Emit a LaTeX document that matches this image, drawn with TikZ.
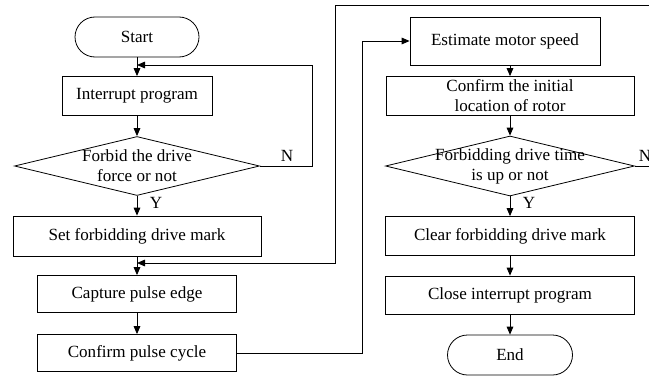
\documentclass[tikz,border=0pt]{standalone}
\usepackage{fontspec}
\setmainfont{Liberation Serif}
\usetikzlibrary{shapes.geometric,arrows.meta}

\begin{document}
\begin{tikzpicture}[x=0.75pt, y=-0.75pt,
    font=\fontsize{12.8}{15}\selectfont,
    box/.style={draw, line width=0.6pt, rectangle, inner sep=0pt, align=center},
    term/.style={draw, line width=0.6pt, rectangle, rounded corners=15pt, inner sep=0pt, minimum width=93pt, minimum height=30pt},
    decision/.style={draw, line width=0.6pt, diamond, inner sep=0pt},
    arr/.style={-{Triangle[length=6pt,width=5pt]}, line width=0.6pt},
    wire/.style={line width=0.6pt}]
    \useasboundingbox (0,0) rectangle (649,378);
    \clip (0,0) rectangle (649,378);

    % left column
    \node[term] (start) at (137,37) {Start};
    \node[box, minimum width=112.5pt, minimum height=29.25pt] (intr) at (137,96) {Interrupt program};
    \node[decision, minimum width=183.75pt, minimum height=44.25pt] (dec1) at (137,166) {};
    \node[align=center] at (dec1) {Forbid the drive\\force or not};
    \node[box, minimum width=186pt, minimum height=30pt] (setm) at (137,236) {Set forbidding drive mark};
    \node[box, minimum width=149.25pt, minimum height=27.75pt] (capt) at (137,294) {Capture pulse edge};
    \node[box, minimum width=149.25pt, minimum height=27.75pt] (cycl) at (137,353) {Confirm pulse cycle};

    \node (n1) at (287,156) {N};
    \node (y1) at (156,203) {Y};

    \coordinate (m1) at (137,65);
    \coordinate (m2) at (137,263);

    % right column
    \node[box, minimum width=142.5pt, minimum height=36pt] (est) at (505,41) {Estimate motor speed};
    \node[box, minimum width=186pt, minimum height=29.25pt] (loc) at (510,96) {Confirm the initial\\location of rotor};
    \node[decision, minimum width=186.75pt, minimum height=45pt] (dec2) at (510,166) {};
    \node[align=center] at (dec2) {Forbidding drive time\\is up or not};
    \node[box, minimum width=186.75pt, minimum height=29.25pt] (clr) at (510,236) {Clear forbidding drive mark};
    \node[box, minimum width=186.75pt, minimum height=28.5pt] (cls) at (510,295) {Close interrupt program};
    \node[term, minimum width=93.75pt] (end) at (510,355) {End};

    \node (n2) at (645,156) {N};
    \node (y2) at (529,203) {Y};

    % main flow
    \draw[arr] (start) -- (intr);
    \draw[arr] (intr) -- (dec1);
    \draw[arr] (dec1) -- (setm);
    \draw[arr] (setm) -- (capt);
    \draw[arr] (capt) -- (cycl);

    \draw[arr] (est.south -| loc.north) -- (loc);
    \draw[arr] (loc) -- (dec2);
    \draw[arr] (dec2) -- (clr);
    \draw[arr] (clr) -- (cls);
    \draw[arr] (cls) -- (end);

    % loops
    \draw[arr] (dec1.east) -- ++(52,0) |- (m1);
    \draw[arr] (cycl.east) -- ++(125,0) |- (est.west);
    \draw[arr] (dec2.east) -- ++(60,0) |- (335,5) |- (m2);
\end{tikzpicture}
\end{document}
